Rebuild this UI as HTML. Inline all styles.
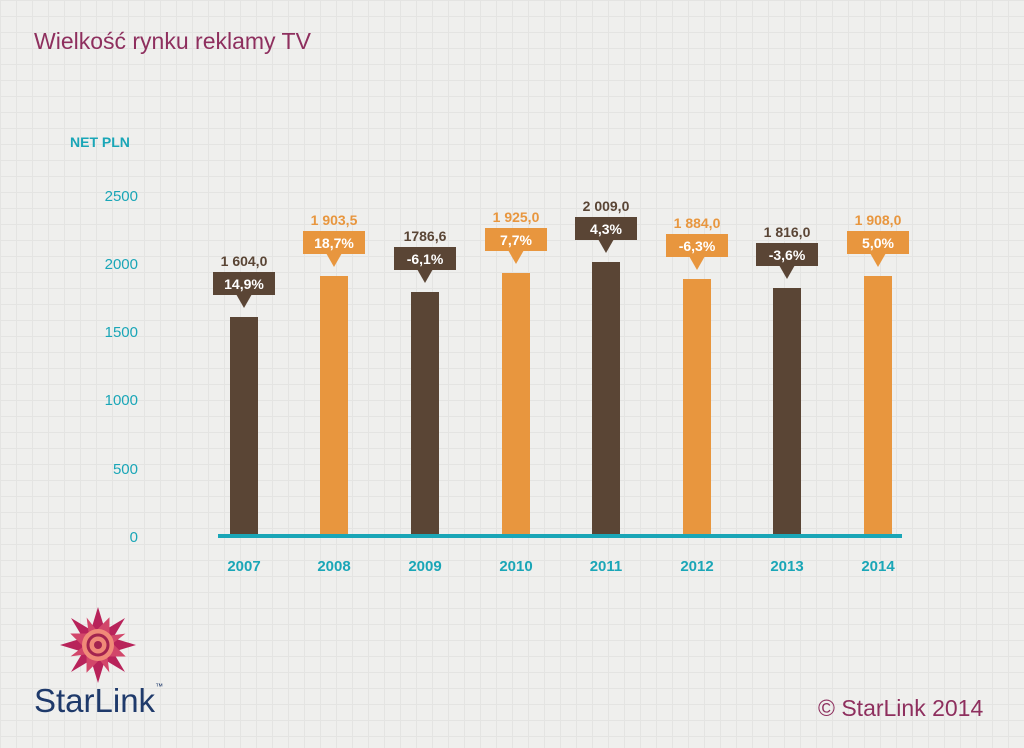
<!DOCTYPE html>
<html><head><meta charset="utf-8"><style>
body{margin:0;width:1024px;height:748px;overflow:hidden;background:#efefed;font-family:"Liberation Sans",sans-serif;position:relative}
.grid{position:absolute;inset:0;background-image:linear-gradient(#e4e4e2 1px,transparent 1px),linear-gradient(90deg,#e4e4e2 1px,transparent 1px);background-size:16px 16px}
.t{position:absolute;white-space:nowrap}
</style></head><body><div class="grid"></div>
<div class="t" style="left:34px;top:28px;font-size:23px;color:#8e2f5e">Wielkość rynku reklamy TV</div>
<div class="t" style="left:70px;top:134px;font-size:14px;font-weight:bold;color:#1aa6b7">NET PLN</div>
<svg width="1024" height="748" style="position:absolute;left:0;top:0" font-family="Liberation Sans, sans-serif">
<g fill="#1aa6b7" font-size="15" text-anchor="end">
<text x="138" y="201">2500</text><text x="138" y="269">2000</text><text x="138" y="337">1500</text><text x="138" y="405">1000</text><text x="138" y="474">500</text><text x="138" y="542">0</text>
</g>
<g font-size="14" font-weight="bold" text-anchor="middle">
<g fill="#5a4535"><rect x="230" y="317" width="28" height="219"/><rect x="213" y="272" width="62" height="23"/><polygon points="236,294 252,294 244,308"/><text x="244" y="266">1 604,0</text></g><text x="244" y="289" fill="#fff">14,9%</text>
<g fill="#e8963e"><rect x="320" y="276" width="28" height="260"/><rect x="303" y="231" width="62" height="23"/><polygon points="326,253 342,253 334,267"/><text x="334" y="225">1 903,5</text></g><text x="334" y="248" fill="#fff">18,7%</text>
<g fill="#5a4535"><rect x="411" y="292" width="28" height="244"/><rect x="394" y="247" width="62" height="23"/><polygon points="417,269 433,269 425,283"/><text x="425" y="241">1786,6</text></g><text x="425" y="264" fill="#fff">-6,1%</text>
<g fill="#e8963e"><rect x="502" y="273" width="28" height="263"/><rect x="485" y="228" width="62" height="23"/><polygon points="508,250 524,250 516,264"/><text x="516" y="222">1 925,0</text></g><text x="516" y="245" fill="#fff">7,7%</text>
<g fill="#5a4535"><rect x="592" y="262" width="28" height="274"/><rect x="575" y="217" width="62" height="23"/><polygon points="598,239 614,239 606,253"/><text x="606" y="211">2 009,0</text></g><text x="606" y="234" fill="#fff">4,3%</text>
<g fill="#e8963e"><rect x="683" y="279" width="28" height="257"/><rect x="666" y="234" width="62" height="23"/><polygon points="689,256 705,256 697,270"/><text x="697" y="228">1 884,0</text></g><text x="697" y="251" fill="#fff">-6,3%</text>
<g fill="#5a4535"><rect x="773" y="288" width="28" height="248"/><rect x="756" y="243" width="62" height="23"/><polygon points="779,265 795,265 787,279"/><text x="787" y="237">1 816,0</text></g><text x="787" y="260" fill="#fff">-3,6%</text>
<g fill="#e8963e"><rect x="864" y="276" width="28" height="260"/><rect x="847" y="231" width="62" height="23"/><polygon points="870,253 886,253 878,267"/><text x="878" y="225">1 908,0</text></g><text x="878" y="248" fill="#fff">5,0%</text>
</g>
<rect x="218" y="534" width="684" height="4" fill="#1aa6b7"/>
<g fill="#1aa6b7" font-size="15" font-weight="bold" text-anchor="middle">
<text x="244" y="571">2007</text><text x="334" y="571">2008</text><text x="425" y="571">2009</text><text x="516" y="571">2010</text><text x="606" y="571">2011</text><text x="697" y="571">2012</text><text x="787" y="571">2013</text><text x="878" y="571">2014</text>
</g>
<g transform="translate(98,645)">
<polygon fill="#b8235a" points="0,-38 7,-15 27,-27 15,-7 38,0 15,7 27,27 7,15 0,38 -7,15 -27,27 -15,7 -38,0 -15,-7 -27,-27 -7,-15"/>
<polygon fill="#d2466a" transform="rotate(22.5)" points="0,-30 7,-13 21,-21 13,-7 30,0 13,7 21,21 7,13 0,30 -7,13 -21,21 -13,7 -30,0 -13,-7 -21,-21 -7,-13"/>
<circle r="16" fill="#f08a78"/><circle r="10" fill="none" stroke="#a3244f" stroke-width="3"/><circle r="4" fill="#a3244f"/>
</g>
</svg>
<div class="t" style="left:34px;top:682px;font-size:33px;color:#1f3a6b">StarLink<span style="font-size:8px;vertical-align:top">™</span></div>
<div class="t" style="left:818px;top:695px;font-size:23px;color:#8e2f5e">© StarLink 2014</div>
</body></html>
